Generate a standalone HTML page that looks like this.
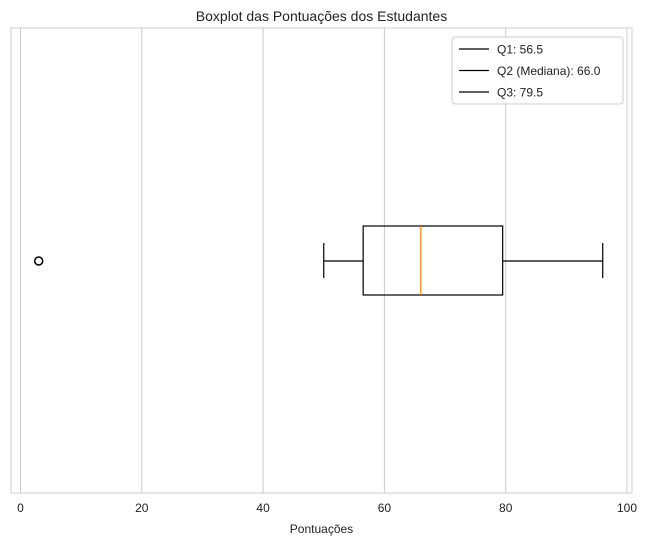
<!DOCTYPE html>
<html><head><meta charset="utf-8"><style>
body{margin:0;background:#fff;font-family:"Liberation Sans","DejaVu Sans",sans-serif;}
svg{display:block}
</style></head><body>
<svg width="647" height="545">
<rect x="0" y="0" width="647" height="545" fill="#fff"/>
<g id="grid"></g>
<rect x="11" y="28" width="621" height="465" fill="none" stroke="#cccccc" stroke-width="1"/>
<text x="321.5" y="21" text-anchor="middle" font-size="14" fill="#222">Boxplot das Pontuações dos Estudantes</text>
<text x="321.5" y="533" text-anchor="middle" font-size="12" fill="#222">Pontuações</text>
<g id="ticks"></g>
<g id="box"></g>
<g>
<rect x="452" y="37" width="171" height="67" rx="3" fill="#fff" fill-opacity="0.8" stroke="#ccc"/>
<g id="legend-items"></g>
</g>
</svg>
<script>
const tickValues=[0,20,40,60,80,100];
const stats={min:50,q1:56.5,median:66.0,q3:79.5,max:96};
const outliers=[3];
const legendLabels=["Q1: 56.5","Q2 (Mediana): 66.0","Q3: 79.5"];
{
const NS="http://www.w3.org/2000/svg";
const X=v=>20.5+v*6.065;
const yc=261,yTop=28,yBot=493;
function mk(t,a,p){const e=document.createElementNS(NS,t);for(const k in a)e.setAttribute(k,a[k]);p.appendChild(e);return e;}
const grid=document.getElementById('grid'),ticks=document.getElementById('ticks');
tickValues.forEach(v=>{
 const l=mk('line',{x1:X(v),x2:X(v),y1:yTop,y2:yBot,stroke:'#cccccc','stroke-width':1},grid);
 
 
 const t=mk('text',{x:X(v),y:512,'text-anchor':'middle','font-size':12,fill:'#222'},ticks);
 t.textContent=v;
 
 
});
const b=document.getElementById('box');
const s={stroke:'#000','stroke-width':1.2,fill:'none'};
const box=mk('rect',Object.assign({x:X(stats.q1),y:226,width:X(stats.q3)-X(stats.q1),height:69},s),b);


const w1=mk('line',Object.assign({x1:X(stats.min),x2:X(stats.q1),y1:yc,y2:yc},s),b);


const w2=mk('line',Object.assign({x1:X(stats.q3),x2:X(stats.max),y1:yc,y2:yc},s),b);


const c1=mk('line',Object.assign({x1:X(stats.min),x2:X(stats.min),y1:243,y2:278},s),b);


const c2=mk('line',Object.assign({x1:X(stats.max),x2:X(stats.max),y1:243,y2:278},s),b);


const m=mk('line',{x1:X(stats.median),x2:X(stats.median),y1:226,y2:295,stroke:'#ff7f0e','stroke-width':1.2},b);


outliers.forEach(o=>{
 const c=mk('circle',{cx:X(o),cy:yc,r:4,fill:'none',stroke:'#000','stroke-width':1.5},b);
 
 
});
const lg=document.getElementById('legend-items');
legendLabels.forEach((lab,i)=>{
 const y=49+i*21.5;
 const g=mk('g',{},lg);
 
 
 mk('line',{x1:459,x2:489,y1:y,y2:y,stroke:'#000','stroke-width':1.2},g);
 const t=mk('text',{x:497,y:y+4.5,'font-size':12,fill:'#222'},g);
 t.textContent=lab;
});
}
</script>
</body></html>
